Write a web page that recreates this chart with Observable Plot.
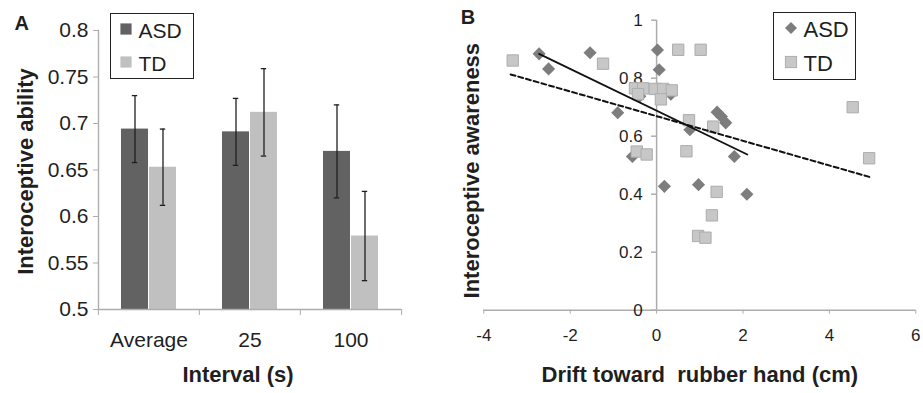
<!DOCTYPE html>
<html>
<head>
<meta charset="utf-8">
<script src="https://cdn.jsdelivr.net/npm/d3@7"></script>
<script src="https://cdn.jsdelivr.net/npm/@observablehq/plot@0.6"></script>
<style>
  html, body { margin: 0; padding: 0; background: #fff; }
  #wrap { position: relative; width: 923px; height: 393px; overflow: hidden; font-family: 'Liberation Sans', Arial, sans-serif; color: #1f1f1f; }
  #panelA { position: absolute; left: 0; top: 0; }
  #panelB { position: absolute; left: 460px; top: 0; }
  #panelA svg, #panelB svg { display: block; overflow: visible; }
  .legend { position: absolute; border: 1px solid #222; background: #fff; box-sizing: border-box; }
  .legend .item { position: absolute; white-space: nowrap; }
  .legend svg { position: absolute; overflow: visible; }
</style>
</head>
<body>
<div id="wrap">
  <div id="panelA"></div>
  <div id="panelB"></div>
</div>
<script>
// ---------- Panel A data ----------
const intervals = ["Average", "25", "100"];
const groups = ["ASD", "TD"];
const abilityASD = [0.694, 0.691, 0.670];
const abilityTD = [0.653, 0.712, 0.579];
const errorASD = [0.036, 0.036, 0.050];
const errorTD = [0.041, 0.047, 0.048];
const yTicksA = [0.5, 0.55, 0.6, 0.65, 0.7, 0.75, 0.8];

// ---------- Panel B data ----------
const asdDrift =     [-2.72, -2.50, -1.54, -0.90, -0.56, -0.39, 0.02, 0.06, 0.18, 0.33, 0.77, 0.97, 1.40, 1.50, 1.60, 1.80, 2.09];
const asdAwareness = [0.884, 0.832, 0.888, 0.681, 0.530, 0.738, 0.897, 0.829, 0.427, 0.745, 0.622, 0.433, 0.683, 0.668, 0.646, 0.530, 0.400];
const tdDrift =      [-3.33, -1.24, -0.50, -0.31, -0.43, -0.46, -0.23, -0.04, 0.15, 0.35, 0.10, 0.50, 1.02, 0.75, 0.69, 1.31, 1.39, 1.28, 0.96, 1.13, 4.54, 4.92];
const tdAwareness =  [0.861, 0.850, 0.765, 0.765, 0.745, 0.547, 0.537, 0.763, 0.763, 0.758, 0.727, 0.898, 0.898, 0.655, 0.548, 0.633, 0.408, 0.327, 0.256, 0.250, 0.700, 0.524];
const asdFitDrift = [-2.72, 2.10];
const asdFitAwareness = [0.884, 0.537];
const tdFitDrift = [-3.38, 4.94];
const tdFitAwareness = [0.813, 0.459];
const xTicksB = [-4, -2, 0, 2, 4, 6];
const yTicksB = [0, 0.2, 0.4, 0.6, 0.8, 1];

// ---------- styles ----------
const font = "'Liberation Sans', Arial, sans-serif";
const ink = "#1f1f1f";
const axisGray = "#adadad";
const barColors = ["#626262", "#c0c0c0"];
const asdDot = "#7d7d7d";
const tdDot = "#c7c7c7";
const tdDotStroke = "#adadad";

// ---------- Panel A ----------
const dataA = intervals.flatMap((interval, i) => [
  {interval, group: groups[0], value: abilityASD[i], error: errorASD[i]},
  {interval, group: groups[1], value: abilityTD[i], error: errorTD[i]}
]);
const widthA = 460, mLA = 97, mRA = 59;
const bandA = (widthA - mLA - mRA) / intervals.length;

const chartA = Plot.plot({
  width: widthA, height: 393,
  marginLeft: mLA, marginRight: mRA, marginTop: 30, marginBottom: 84,
  style: {fontFamily: font, background: "transparent", overflow: "visible"},
  fx: {domain: intervals, padding: 0, label: null, axis: null},
  x: {domain: groups, paddingInner: 0.02, paddingOuter: 0.77, axis: null},
  y: {domain: [yTicksA[0], yTicksA[yTicksA.length - 1]], label: null, axis: null},
  color: {domain: groups, range: barColors},
  marks: [
    Plot.barY(dataA, {fx: "interval", x: "group", y1: yTicksA[0], y2: "value", fill: "group"}),
    Plot.ruleY([yTicksA[0]], {stroke: axisGray, strokeWidth: 1.4}),
    Plot.frame({anchor: "left", facetAnchor: "left", stroke: axisGray, strokeWidth: 1.4}),
    Plot.ruleX(dataA, {fx: "interval", x: "group", y1: d => d.value - d.error, y2: d => d.value + d.error, stroke: ink, strokeWidth: 1.3}),
    Plot.tickY(dataA, {fx: "interval", x: "group", y: d => d.value - d.error, insetLeft: 10.8, insetRight: 10.8, stroke: ink, strokeWidth: 1.3}),
    Plot.tickY(dataA, {fx: "interval", x: "group", y: d => d.value + d.error, insetLeft: 10.8, insetRight: 10.8, stroke: ink, strokeWidth: 1.3}),
    Plot.axisY({ticks: yTicksA, tickFormat: d => String(d), tickSize: 5, tickPadding: 5, fontSize: 21, stroke: axisGray, fill: ink, label: null}),
    Plot.axisFx({anchor: "bottom", tickSize: 0, tickPadding: 23, fontSize: 21, fill: ink, label: null}),
    Plot.axisFx({anchor: "bottom", tickSize: 6, tickFormat: () => "", stroke: axisGray, dx: -bandA / 2, label: null}),
    Plot.axisFx({anchor: "bottom", ticks: [intervals[intervals.length - 1]], tickSize: 6, tickFormat: () => "", stroke: axisGray, dx: bandA / 2, label: null}),
    Plot.text([{interval: intervals[1], t: "Interval (s)"}], {fx: "interval", text: "t", frameAnchor: "bottom", textAnchor: "middle", lineAnchor: "bottom", dy: 72.7, dx: -12, fontSize: 22, fontWeight: "bold", fill: ink}),
    Plot.text([{interval: intervals[0], t: "Interoceptive ability"}], {fx: "interval", text: "t", frameAnchor: "left", textAnchor: "middle", lineAnchor: "top", rotate: -90, dx: -81, dy: 1.5, fontSize: 22, fontWeight: "bold", fill: ink}),
    Plot.text([{interval: intervals[0], t: "A"}], {fx: "interval", text: "t", frameAnchor: "top-left", textAnchor: "start", lineAnchor: "top", dx: -84, dy: -15, fontSize: 20, fontWeight: "bold", fill: ink})
  ]
});
document.getElementById("panelA").appendChild(chartA);

// ---------- Panel B ----------
const asdPoints = asdDrift.map((x, i) => ({x, y: asdAwareness[i]}));
const tdPoints = tdDrift.map((x, i) => ({x, y: tdAwareness[i]}));
const asdFit = asdFitDrift.map((x, i) => ({x, y: asdFitAwareness[i]}));
const tdFit = tdFitDrift.map((x, i) => ({x, y: tdFitAwareness[i]}));

const chartB = Plot.plot({
  width: 463, height: 393,
  marginLeft: 23.3, marginRight: 7.7, marginTop: 19.7, marginBottom: 83.3,
  style: {fontFamily: font, background: "transparent", overflow: "visible"},
  x: {domain: [xTicksB[0], xTicksB[xTicksB.length - 1]], axis: null},
  y: {domain: [yTicksB[0], yTicksB[yTicksB.length - 1]], axis: null},
  marks: [
    Plot.ruleY([yTicksB[0]], {stroke: axisGray, strokeWidth: 1.5}),
    Plot.ruleX([0], {y1: yTicksB[0], y2: yTicksB[yTicksB.length - 1], stroke: axisGray, strokeWidth: 1.5}),
    Plot.axisX({ticks: xTicksB, tickSize: 4, tickPadding: 15, tickFormat: d => String(d), fontSize: 17, stroke: axisGray, fill: ink, label: null}),
    Plot.ruleY(yTicksB, {x1: 0, x2: 0, insetLeft: -5, stroke: axisGray, strokeWidth: 1.5}),
    Plot.text(yTicksB, {x: 0, y: d => d, text: d => String(d), textAnchor: "end", dx: -14, fontSize: 17, fill: ink}),
    Plot.dot(asdPoints, {x: "x", y: "y", symbol: "diamond2", r: 5.9, fill: asdDot}),
    Plot.dot(tdPoints, {x: "x", y: "y", symbol: "square", r: 6.4, fill: tdDot, stroke: tdDotStroke, strokeWidth: 1}),
    Plot.line(asdFit, {x: "x", y: "y", stroke: "#111", strokeWidth: 1.8}),
    Plot.line(tdFit, {x: "x", y: "y", stroke: "#111", strokeWidth: 2, strokeDasharray: "5,3"}),
    Plot.text(["Drift toward  rubber hand (cm)"], {frameAnchor: "bottom", textAnchor: "middle", lineAnchor: "bottom", dy: 72, fontSize: 22, fontWeight: "bold", fill: ink}),
    Plot.text(["Interoceptive awareness"], {frameAnchor: "left", textAnchor: "middle", lineAnchor: "top", rotate: -90, dx: -20.5, dy: 5.5, fontSize: 22, fontWeight: "bold", fill: ink}),
    Plot.text(["B"], {frameAnchor: "top-left", textAnchor: "start", lineAnchor: "top", dx: -23, dy: -10, fontSize: 20, fontWeight: "bold", fill: ink})
  ]
});
document.getElementById("panelB").appendChild(chartB);

// ---------- Legends (HTML overlays) ----------
function makeLegend(box, items, fontSize) {
  const div = document.createElement("div");
  div.className = "legend";
  Object.assign(div.style, {left: box.left + "px", top: box.top + "px", width: box.width + "px", height: box.height + "px"});
  for (const it of items) {
    const s = 14;
    const svg = document.createElementNS("http://www.w3.org/2000/svg", "svg");
    svg.setAttribute("width", s); svg.setAttribute("height", s);
    svg.style.left = (it.sx - s / 2) + "px"; svg.style.top = (it.sy - s / 2) + "px";
    svg.innerHTML = it.shape(s / 2);
    div.appendChild(svg);
    const t = document.createElement("div");
    t.className = "item";
    t.textContent = it.label;
    Object.assign(t.style, {left: it.tx + "px", top: (it.ty - fontSize / 2) + "px", fontSize: fontSize + "px", lineHeight: fontSize + "px"});
    div.appendChild(t);
  }
  document.getElementById("wrap").appendChild(div);
}
const sq = (fill, stroke, half) => c => `<rect x="${c - half}" y="${c - half}" width="${2 * half}" height="${2 * half}" fill="${fill}" ${stroke ? `stroke="${stroke}" stroke-width="1"` : ""}/>`;
const dia = (fill, half) => c => `<polygon points="${c},${c - half} ${c + half},${c} ${c},${c + half} ${c - half},${c}" fill="${fill}"/>`;

makeLegend({left: 110, top: 13, width: 84, height: 66}, [
  {label: groups[0], shape: sq(barColors[0], null, 5.6), sx: 14.5, sy: 14.5, tx: 27.5, ty: 16},
  {label: groups[1], shape: sq(barColors[1], null, 5.6), sx: 14.5, sy: 48, tx: 27.5, ty: 49.5}
], 21);

makeLegend({left: 773, top: 12, width: 83, height: 68}, [
  {label: groups[0], shape: dia(asdDot, 6), sx: 16.5, sy: 14.5, tx: 29.5, ty: 16.5},
  {label: groups[1], shape: sq(tdDot, tdDotStroke, 5.6), sx: 16.5, sy: 48.5, tx: 29.5, ty: 51}
], 22);
</script>
</body>
</html>
